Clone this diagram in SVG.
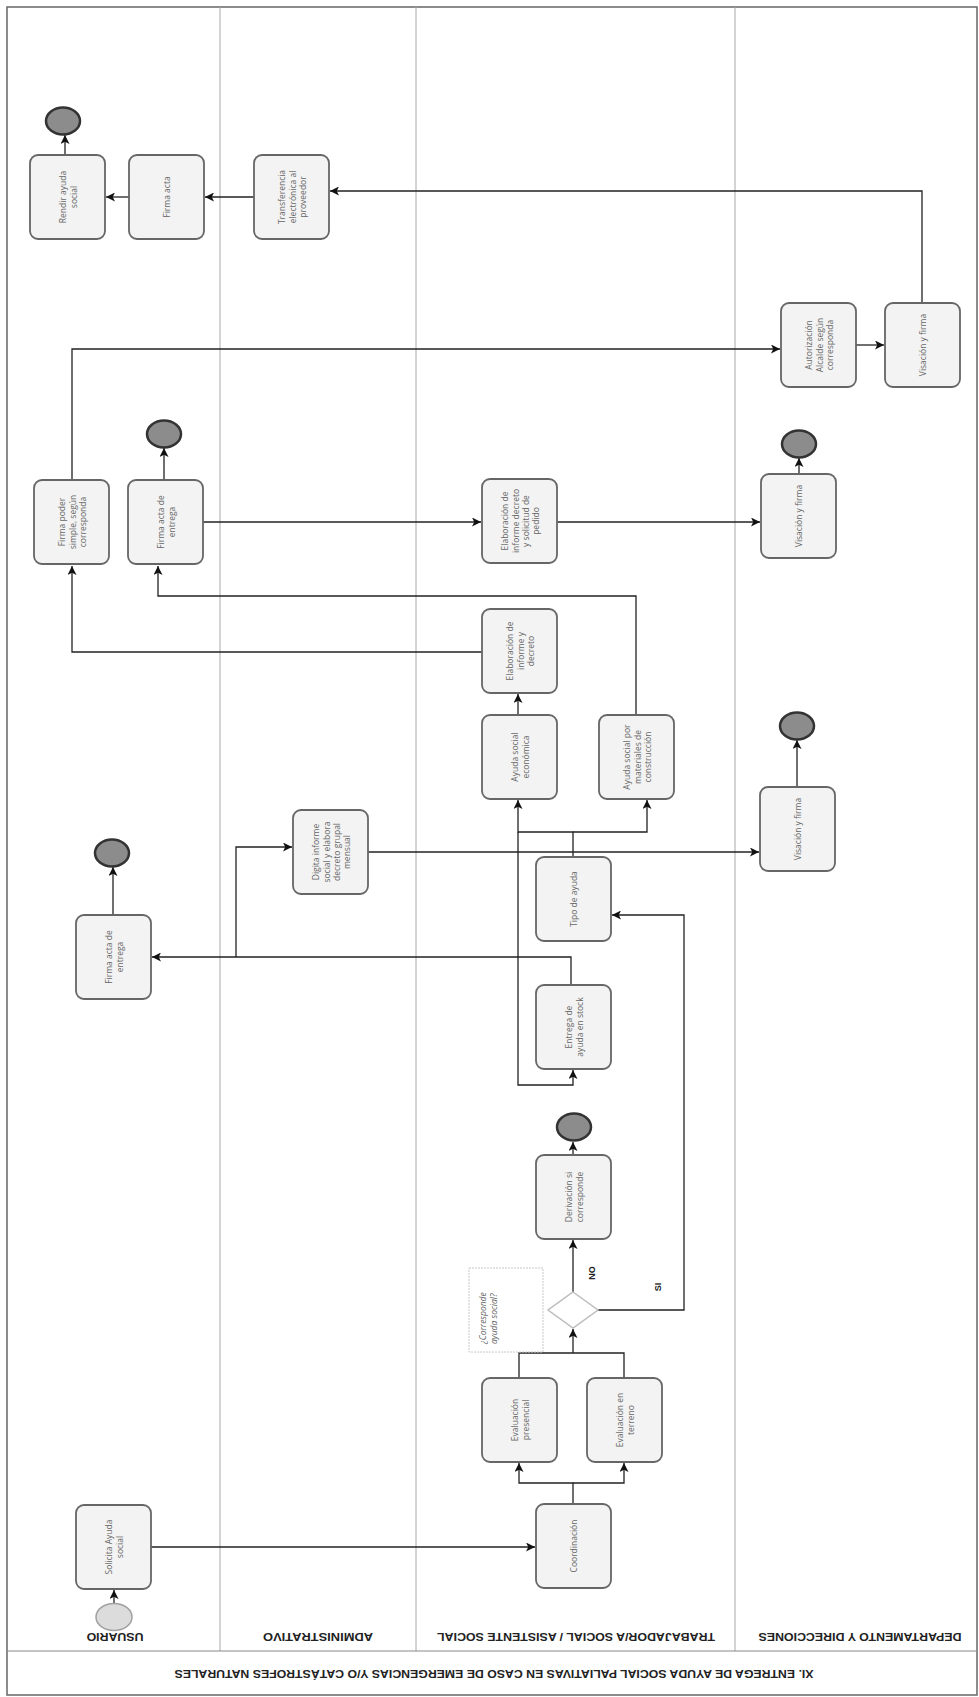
<svg xmlns="http://www.w3.org/2000/svg" width="979" height="1697" viewBox="0 0 979 1697">
<style>
.bg{fill:#ffffff}
.lane{stroke:#a8a8a8;stroke-width:1;fill:none}
.frame{stroke:#666;stroke-width:1.5;fill:none}
.task{fill:#f3f3f3;stroke:#666;stroke-width:1.8}
.t{font-family:"Open Sans","Liberation Sans",sans-serif;font-size:8.5px;fill:#666;text-anchor:middle;dominant-baseline:central}
.end{fill:#8c8c8c;stroke:#333;stroke-width:2.5}
.start{fill:#dcdcdc;stroke:#a0a0a0;stroke-width:1.5}
.gw{fill:#fff;stroke:#bdbdbd;stroke-width:1.5}
.c{fill:none;stroke:#222;stroke-width:1.3}
.ca{fill:none;stroke:#222;stroke-width:1.3;marker-end:url(#ah)}
.hdr{font-family:"Liberation Sans",sans-serif;font-weight:bold;font-size:10px;fill:#222;text-anchor:middle;dominant-baseline:central}
.lbl{font-family:"Liberation Sans",sans-serif;font-weight:bold;font-size:9px;fill:#222;text-anchor:middle;dominant-baseline:central}
.ann{fill:#fff;stroke:#c8c8c8;stroke-width:1;stroke-dasharray:2 1}
.at{font-family:"Open Sans","Liberation Sans",sans-serif;font-size:8.5px;fill:#666;font-style:italic}
</style>
<defs>
<marker id="ah" viewBox="0 0 10 10" refX="10" refY="5" markerWidth="9" markerHeight="9" markerUnits="userSpaceOnUse" orient="auto">
<path d="M0,0 L10,5 L0,10 L2.5,5 z" fill="#111"/>
</marker>
</defs>
<rect class="bg" x="0" y="0" width="979" height="1697"/>
<g id="pool">
<rect class="frame" x="7" y="7" width="970" height="1688"/>
<line class="lane" x1="220" y1="7" x2="220" y2="1651"/>
<line class="lane" x1="416" y1="7" x2="416" y2="1651"/>
<line class="lane" x1="735" y1="7" x2="735" y2="1651"/>
<line class="lane" x1="7" y1="1651" x2="977" y2="1651" style="stroke:#888"/>
<text class="hdr" transform="rotate(180 115 1636)" x="115" y="1636" textLength="57" lengthAdjust="spacingAndGlyphs">USUARIO</text>
<text class="hdr" transform="rotate(180 318 1636)" x="318" y="1636" textLength="110" lengthAdjust="spacingAndGlyphs">ADMINISTRATIVO</text>
<text class="hdr" transform="rotate(180 576 1636)" x="576" y="1636" textLength="278" lengthAdjust="spacingAndGlyphs">TRABAJADOR/A SOCIAL / ASISTENTE SOCIAL</text>
<text class="hdr" transform="rotate(180 860 1636)" x="860" y="1636" textLength="203" lengthAdjust="spacingAndGlyphs">DEPARTAMENTO Y DIRECCIONES</text>
<text class="hdr" transform="rotate(180 494 1673)" x="494" y="1673" textLength="639" lengthAdjust="spacingAndGlyphs">XI. ENTREGA DE AYUDA SOCIAL PALIATIVAS EN CASO DE EMERGENCIAS Y/O CATÁSTROFES NATURALES</text>
</g>
<g id="connectors">
<path class="ca" d="M114 1603 V1590"/>
<path class="ca" d="M151 1547 H535"/>
<path class="ca" d="M573 1504 V1483 H519 V1463"/>
<path class="ca" d="M573 1483 H624 V1463"/>
<path class="c" d="M519 1378 V1353 H573"/>
<path class="c" d="M624 1378 V1353 H573"/>
<path class="ca" d="M573 1353 V1329"/>
<path class="ca" d="M573 1292 V1240"/>
<path class="ca" d="M573 1155 V1142"/>
<path class="ca" d="M598 1310 H684 V915 H612"/>
<path class="ca" d="M573 857 V832 H518 V800"/>
<path class="ca" d="M573 832 H647 V800"/>
<path class="ca" d="M518 832 V1085 H573 V1070"/>
<path class="ca" d="M518 715 V694"/>
<path class="ca" d="M571 985 V957 H152"/>
<path class="ca" d="M236 957 V847 H292"/>
<path class="ca" d="M113 915 V867"/>
<path class="ca" d="M368 852 H759"/>
<path class="ca" d="M797 787 V740"/>
<path class="ca" d="M636 715 V596 H158 V566"/>
<path class="ca" d="M482 652 H72 V566"/>
<path class="ca" d="M203 522 H481"/>
<path class="ca" d="M557 522 H760"/>
<path class="ca" d="M799 474 V458"/>
<path class="ca" d="M164 480 V448"/>
<path class="ca" d="M72 480 V349 H780"/>
<path class="ca" d="M856 345 H884"/>
<path class="ca" d="M922 303 V191 H330"/>
<path class="ca" d="M254 197 H205"/>
<path class="ca" d="M129 197 H106"/>
<path class="ca" d="M65 155 V135"/>
<text class="lbl" transform="rotate(-90 592 1273)" x="592" y="1273">NO</text>
<text class="lbl" transform="rotate(-90 658 1287)" x="658" y="1287">SI</text>
</g>
<g id="start"><ellipse class="start" cx="114" cy="1617" rx="18" ry="13.5"/></g>
<g id="n-solicita"><rect class="task" x="76" y="1505" width="75" height="84" rx="8"/><text class="t" transform="rotate(-90 113.5 1547)" x="113.5" y="1542">Solicita Ayuda<tspan x="113.5" dy="10">social</tspan></text></g>
<g id="n-coordinacion"><rect class="task" x="536" y="1504" width="75" height="84" rx="8"/><text class="t" transform="rotate(-90 573.5 1546)" x="573.5" y="1546">Coordinación</text></g>
<g id="n-evalpres"><rect class="task" x="482" y="1378" width="75" height="84" rx="8"/><text class="t" transform="rotate(-90 519.5 1420)" x="519.5" y="1415">Evaluación<tspan x="519.5" dy="10">presencial</tspan></text></g>
<g id="n-evalterr"><rect class="task" x="587" y="1378" width="75" height="84" rx="8"/><text class="t" transform="rotate(-90 624.5 1420)" x="624.5" y="1415">Evaluación en<tspan x="624.5" dy="10">terreno</tspan></text></g>
<g id="n-gateway"><polygon class="gw" points="573,1292 598,1310 573,1328 548,1310"/></g>
<g id="n-annotation"><rect class="ann" x="469" y="1268" width="74" height="84"/><text class="at" transform="rotate(-90 486 1344)" x="486" y="1344">¿Corresponde<tspan x="486" dy="11">ayuda social?</tspan></text></g>
<g id="n-derivacion"><rect class="task" x="536" y="1155" width="75" height="84" rx="8"/><text class="t" transform="rotate(-90 573.5 1197)" x="573.5" y="1192">Derivación si<tspan x="573.5" dy="10">corresponde</tspan></text></g>
<g id="e-derivacion"><ellipse class="end" cx="574" cy="1127" rx="17" ry="13.5"/></g>
<g id="n-entrega"><rect class="task" x="536" y="985" width="75" height="84" rx="8"/><text class="t" transform="rotate(-90 573.5 1027)" x="573.5" y="1022">Entrega de<tspan x="573.5" dy="10">ayuda en stock</tspan></text></g>
<g id="n-tipo"><rect class="task" x="536" y="857" width="75" height="84" rx="8"/><text class="t" transform="rotate(-90 573.5 899)" x="573.5" y="899">Tipo de ayuda</text></g>
<g id="n-economica"><rect class="task" x="482" y="715" width="75" height="84" rx="8"/><text class="t" transform="rotate(-90 519.5 757)" x="519.5" y="752">Ayuda social<tspan x="519.5" dy="10">económica</tspan></text></g>
<g id="n-materiales"><rect class="task" x="599" y="715" width="75" height="84" rx="8"/><text class="t" transform="rotate(-90 636.5 757)" x="636.5" y="747">Ayuda social por<tspan x="636.5" dy="10">materiales de</tspan><tspan x="636.5" dy="10">construcción</tspan></text></g>
<g id="n-elabdecreto"><rect class="task" x="482" y="609" width="75" height="84" rx="8"/><text class="t" transform="rotate(-90 519.5 651)" x="519.5" y="641">Elaboración de<tspan x="519.5" dy="10">informe y</tspan><tspan x="519.5" dy="10">decreto</tspan></text></g>
<g id="n-elabpedido"><rect class="task" x="482" y="479" width="75" height="84" rx="8"/><text class="t" transform="rotate(-90 519.5 521)" x="519.5" y="506">Elaboración de<tspan x="519.5" dy="10">informe decreto</tspan><tspan x="519.5" dy="10">y solicitud de</tspan><tspan x="519.5" dy="10">pedido</tspan></text></g>
<g id="n-firmaentrega2"><rect class="task" x="76" y="915" width="75" height="84" rx="8"/><text class="t" transform="rotate(-90 113.5 957)" x="113.5" y="952">Firma acta de<tspan x="113.5" dy="10">entrega</tspan></text></g>
<g id="e-firmaentrega2"><ellipse class="end" cx="112" cy="853" rx="17" ry="13.5"/></g>
<g id="n-digita"><rect class="task" x="293" y="810" width="75" height="84" rx="8"/><text class="t" transform="rotate(-90 330.5 852)" x="330.5" y="837">Digita informe<tspan x="330.5" dy="10">social y elabora</tspan><tspan x="330.5" dy="10">decreto grupal</tspan><tspan x="330.5" dy="10">mensual</tspan></text></g>
<g id="n-visacion2"><rect class="task" x="760" y="787" width="75" height="84" rx="8"/><text class="t" transform="rotate(-90 797.5 829)" x="797.5" y="829">Visación y firma</text></g>
<g id="e-visacion2"><ellipse class="end" cx="797" cy="726" rx="17" ry="13.5"/></g>
<g id="n-firmapoder"><rect class="task" x="34" y="480" width="75" height="84" rx="8"/><text class="t" transform="rotate(-90 71.5 522)" x="71.5" y="512">Firma poder<tspan x="71.5" dy="10">simple, según</tspan><tspan x="71.5" dy="10">corresponda</tspan></text></g>
<g id="n-firmaentrega1"><rect class="task" x="128" y="480" width="75" height="84" rx="8"/><text class="t" transform="rotate(-90 165.5 522)" x="165.5" y="517">Firma acta de<tspan x="165.5" dy="10">entrega</tspan></text></g>
<g id="e-firmaentrega1"><ellipse class="end" cx="164" cy="434" rx="17" ry="13.5"/></g>
<g id="n-visacion1"><rect class="task" x="761" y="474" width="75" height="84" rx="8"/><text class="t" transform="rotate(-90 798.5 516)" x="798.5" y="516">Visación y firma</text></g>
<g id="e-visacion1"><ellipse class="end" cx="799" cy="444" rx="17" ry="13.5"/></g>
<g id="n-autorizacion"><rect class="task" x="781" y="303" width="75" height="84" rx="8"/><text class="t" transform="rotate(-90 818.5 345)" x="818.5" y="335">Autorización<tspan x="818.5" dy="10">Alcalde según</tspan><tspan x="818.5" dy="10">corresponda</tspan></text></g>
<g id="n-visacion0"><rect class="task" x="885" y="303" width="75" height="84" rx="8"/><text class="t" transform="rotate(-90 922.5 345)" x="922.5" y="345">Visación y firma</text></g>
<g id="n-transferencia"><rect class="task" x="254" y="155" width="75" height="84" rx="8"/><text class="t" transform="rotate(-90 291.5 197)" x="291.5" y="187">Transferencia<tspan x="291.5" dy="10">electrónica al</tspan><tspan x="291.5" dy="10">proveedor</tspan></text></g>
<g id="n-firmaacta"><rect class="task" x="129" y="155" width="75" height="84" rx="8"/><text class="t" transform="rotate(-90 166.5 197)" x="166.5" y="197">Firma acta</text></g>
<g id="n-rendir"><rect class="task" x="30" y="155" width="75" height="84" rx="8"/><text class="t" transform="rotate(-90 67.5 197)" x="67.5" y="192">Rendir ayuda<tspan x="67.5" dy="10">social</tspan></text></g>
<g id="e-rendir"><ellipse class="end" cx="63" cy="121" rx="17" ry="13.5"/></g>
</svg>
